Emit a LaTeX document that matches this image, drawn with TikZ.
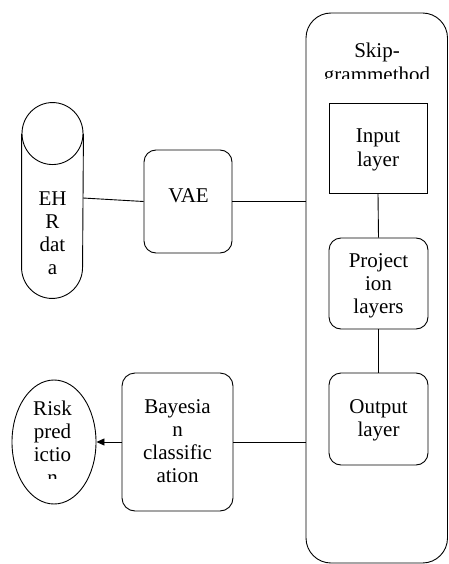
\documentclass[tikz,border=0pt]{standalone}
\usepackage{fontspec}
\setmainfont{Liberation Serif}
\usetikzlibrary{arrows.meta,shapes.geometric}
\begin{document}
\begin{tikzpicture}[x=1pt,y=-1pt,line width=0.9pt,
  shell/.style={draw,inner sep=0pt},
  rbox/.style={shell,rounded corners=12pt},
  lbl/.style={inner sep=0pt,align=center,anchor=base,font=\fontsize{21}{23.3}\selectfont},
  link/.style={draw,line width=0.9pt}]
\useasboundingbox (0,0) rectangle (448,564);
% EHR cylinder
\node[inner sep=0pt,minimum width=61pt,minimum height=133pt] (ehr) at (52.5,200.5) {};
\draw (ehr.north west) -- (ehr.south west) arc[start angle=180,end angle=360,x radius=30.5pt,y radius=31pt] -- (ehr.north east);
\draw (ehr.north) ellipse[x radius=30.5pt,y radius=31pt];
\node[lbl] (ehrT) at (52.5,274.9) {EH\\R\\dat\\a};
\coordinate (ehrout) at (83,198);
% VAE
\node[rbox,minimum width=88pt,minimum height=103pt] (vae) at (188,201.5) {};
\node[lbl] (vaeT) at (188.5,202) {VAE};
% Skip-gram container
\node[shell,rounded corners=25pt,minimum width=141.5pt,minimum height=550pt] (skip) at (376.75,288) {};
\begin{scope}
\clip (306,13) rectangle (447,79);
\node[lbl] (skipT) at (377,81.3) {Skip-\\grammethod};
\end{scope}
\node[shell,minimum width=98pt,minimum height=90pt] (inp) at (378,148) {};
\node[lbl] (inpT) at (378,166.3) {Input\\layer};
\node[rbox,minimum width=99pt,minimum height=91pt] (proj) at (378.5,283.5) {};
\node[lbl] (projT) at (378.5,313.6) {Project\\ion\\layers};
\node[rbox,minimum width=99pt,minimum height=92pt] (outp) at (378.5,419) {};
\node[lbl] (outpT) at (378.5,436.3) {Output\\layer};
% Bayesian
\node[rbox,rounded corners=13pt,minimum width=111pt,minimum height=138pt] (bayes) at (177.5,442) {};
\node[lbl] (bayesT) at (177.5,482.9) {Bayesia\\n\\classific\\ation};
% Risk prediction
\node[draw,ellipse,inner sep=0pt,minimum width=84pt,minimum height=124pt] (risk) at (54,442) {};
\begin{scope}
\clip (12,380) rectangle (96,478);
\node[lbl] (riskT) at (52.5,484.9) {Risk\\pred\\ictio\\n};
\end{scope}
% connectors
\draw[link] (ehrout) -- (vae.west);
\draw[link] (vae.east) -- (vae.east -| skip.west);
\draw[link] (inp.south) -- (proj.north);
\draw[link] (proj.south) -- (outp.north);
\draw[link] (bayes.east) -- (bayes.east -| skip.west);
\draw[link,-{Triangle[length=8pt,width=7pt]}] (bayes.west) -- (risk.east);
\end{tikzpicture}
\end{document}
